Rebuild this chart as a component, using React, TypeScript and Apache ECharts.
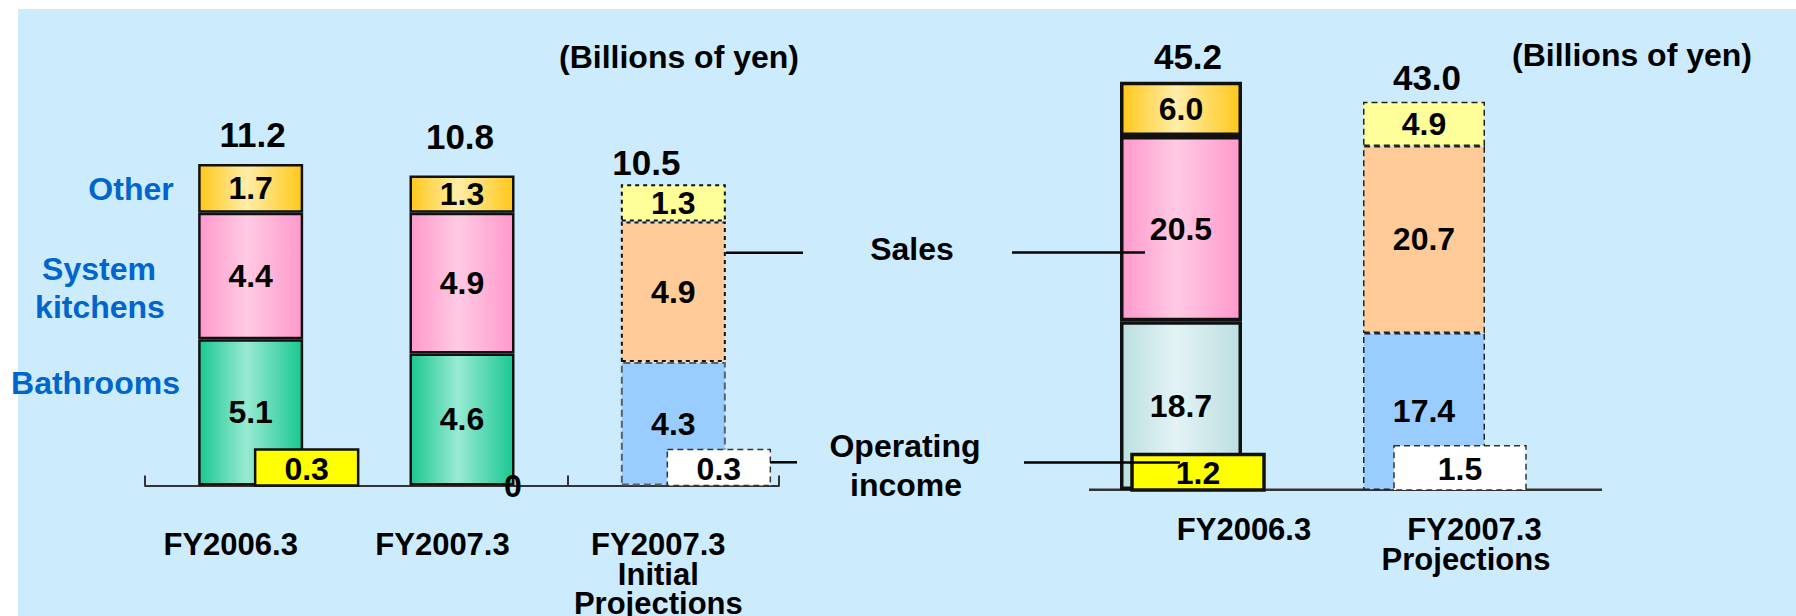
import React, { useEffect, useRef } from 'react';
import * as echarts from 'echarts';

const FONT = "'Liberation Sans', Arial, Helvetica, sans-serif";

// ---------- data ----------
const LEFT_CATEGORIES = ['FY2006.3', 'FY2007.3', 'FY2007.3\nInitial\nProjections'];
const LEFT_BATHROOMS = [5.1, 4.6, 4.3];
const LEFT_KITCHENS = [4.4, 4.9, 4.9];
const LEFT_OTHER = [1.7, 1.3, 1.3];
const LEFT_TOTAL = [11.2, 10.8, 10.5];
const LEFT_OP_INCOME = [0.3, 0, 0.3];

const RIGHT_CATEGORIES = ['FY2006.3', 'FY2007.3\nProjections'];
const RIGHT_SEG1 = [18.7, 17.4];
const RIGHT_SEG2 = [20.5, 20.7];
const RIGHT_SEG3 = [6.0, 4.9];
const RIGHT_TOTAL = [45.2, 43.0];
const RIGHT_OP_INCOME = [1.2, 1.5];

// ---------- layout / style constants ----------
const BG = '#CCEBFD';
const TXT = 32;
const VAL = 32;
const TOT = 35;
const CAT = 31;

const grad = (edge: string, mid: string) => ({
  type: 'linear', x: 0, y: 0, x2: 1, y2: 0,
  colorStops: [
    { offset: 0, color: edge },
    { offset: 0.46, color: mid },
    { offset: 1, color: edge },
  ],
});
const GREEN = grad('#1BC891', '#98EAD2');
const PINK = grad('#FF99CC', '#FFCAE3');
const GOLD = grad('#FFC81A', '#FFEDA8');
const TEAL = grad('#BCDFE0', '#E3F3F6');

const solidL = (color: any) => ({ color, borderColor: '#111', borderWidth: 2.5 });
const solidR = (color: any) => ({ color, borderColor: '#111', borderWidth: 3.5 });
const dashL = (color: string, bc: string, dash: number[]) => ({ color, borderColor: bc, borderWidth: 2, borderType: dash });
const dashR = (color: string) => ({ color, borderColor: '#222', borderWidth: 1.5, borderType: [6, 4] });

const LEFT_BATH_STYLE = [solidL(GREEN), solidL(GREEN), dashL('#99CCFF', '#55606C', [7, 4])];
const LEFT_KIT_STYLE = [solidL(PINK), solidL(PINK), dashL('#FFCC99', '#111', [4, 4])];
const LEFT_OTHER_STYLE = [solidL(GOLD), solidL(GOLD), dashL('#FFFF99', '#111', [4, 4])];
const RIGHT_SEG1_STYLE = [solidR(TEAL), dashR('#99CCFF')];
const RIGHT_SEG2_STYLE = [solidR(PINK), dashR('#FFCC99')];
const RIGHT_SEG3_STYLE = [solidR(GOLD), dashR('#FFFF99')];

const LEFT_TOTAL_OFFSET = [[2, -12.5], [-2, -21.8], [-27, -3.8]];
const RIGHT_TOTAL_OFFSET = [[7, -8], [3, -7.2]];

const LEFT_OP_SHIFT = [56, 51, 45.5];
const RIGHT_OP_SHIFT = [17, 36];
const LEFT_OP_STYLE = [
  { fill: '#FFFF00', stroke: '#111', lineWidth: 2.5, lineDash: null },
  null,
  { fill: '#FFFFFF', stroke: '#333', lineWidth: 1.5, lineDash: [6, 4] },
];
const RIGHT_OP_STYLE = [
  { fill: '#FFFF00', stroke: '#111', lineWidth: 3.5, lineDash: null },
  { fill: '#FFFFFF', stroke: '#333', lineWidth: 1.5, lineDash: [6, 4] },
];

// horizontal shift of each category label line (px)
const LEFT_LABEL_SHIFT = [[-20], [-19.5], [-15, -15, -15]];
const RIGHT_LABEL_SHIFT = [[63], [50.5, 42]];

const LEFT_GRID = { left: 145, top: 141.1, width: 634, height: 344.4 };
const RIGHT_GRID = { left: 1059.5, top: 38.5, width: 486, height: 451.5 };
const LEFT_MAX = 12;
const LEFT_OP_MAX = 344.4 / 120;
const RIGHT_MAX = 50;
const RIGHT_OP_MAX = 451.5 / 29.5;

const valueLabel = {
  show: true,
  position: 'inside',
  fontSize: VAL,
  fontWeight: 'bold',
  fontFamily: FONT,
  color: '#000',
  textBorderWidth: 0,
  formatter: (p: any) => Number(p.value).toFixed(1),
};

function stackSeries(name: string, values: number[], styles: any[], axis: number, stack: string, barWidth: number) {
  return {
    type: 'bar',
    name,
    xAxisIndex: axis,
    yAxisIndex: axis * 2,
    stack,
    barWidth,
    barGap: '-100%',
    z: 2,
    label: valueLabel,
    data: values.map((v, i) => ({ value: v, itemStyle: styles[i] })),
  };
}

function totalSeries(values: number[], offsets: number[][], axis: number, barWidth: number) {
  return {
    type: 'bar',
    xAxisIndex: axis,
    yAxisIndex: axis * 2,
    barWidth,
    barGap: '-100%',
    silent: true,
    z: 3,
    itemStyle: { color: 'rgba(0,0,0,0)', borderWidth: 0 },
    label: {
      show: true,
      position: 'top',
      distance: 0,
      fontSize: TOT,
      fontWeight: 'bold',
      fontFamily: FONT,
      color: '#000',
      formatter: (p: any) => Number(p.value).toFixed(1),
    },
    data: values.map((v, i) => ({ value: v, label: { offset: offsets[i] } })),
  };
}

function opSeries(values: number[], shifts: number[], styles: any[], axis: number, width: number) {
  return {
    type: 'custom',
    xAxisIndex: axis,
    yAxisIndex: axis * 2 + 1,
    z: 5,
    silent: true,
    encode: { x: 0, y: 1 },
    data: values.map((v, i) => [i, v]),
    renderItem: (params: any, api: any) => {
      const idx = api.value(0);
      const v = api.value(1);
      const base = api.coord([idx, 0]);
      const top = api.coord([idx, v]);
      const cx = base[0] + shifts[params.dataIndex];
      const textStyle = {
        fontSize: VAL,
        fontWeight: 'bold',
        fontFamily: FONT,
        fill: '#000',
        align: 'center',
        verticalAlign: 'middle',
        textAlign: 'center',
        textVerticalAlign: 'middle',
      };
      if (!v) {
        return {
          type: 'text',
          style: { ...textStyle, text: String(v), x: cx, y: base[1] },
        };
      }
      const st = styles[params.dataIndex];
      return {
        type: 'group',
        children: [
          {
            type: 'rect',
            shape: { x: cx - width / 2, y: top[1], width, height: base[1] - top[1] },
            style: { fill: st.fill, stroke: st.stroke, lineWidth: st.lineWidth, lineDash: st.lineDash || undefined },
          },
          {
            type: 'text',
            style: { ...textStyle, text: v.toFixed(1), x: cx, y: (top[1] + base[1]) / 2 + 1 },
          },
        ],
      };
    },
  };
}

function makeRich(shifts: number[][], lineHeight: number) {
  const rich: any = {};
  shifts.forEach((lines, i) => {
    lines.forEach((s, j) => {
      rich[`c${i}_${j}`] = {
        fontSize: CAT,
        fontWeight: 'bold',
        fontFamily: FONT,
        color: '#000',
        lineHeight,
        padding: s >= 0 ? [0, 0, 0, 2 * s] : [0, -2 * s, 0, 0],
      };
    });
  });
  return rich;
}

const richFormatter = (value: string, index: number) =>
  value
    .split('\n')
    .map((line, j) => `{c${index}_${j}|${line}}`)
    .join('\n');

const textEl = (text: string, x: number, y: number, fill = '#000', size = TXT) => ({
  type: 'text',
  z: 60,
  style: {
    text, x, y, fill,
    fontSize: size,
    fontWeight: 'bold',
    fontFamily: FONT,
    align: 'center',
    verticalAlign: 'middle',
    textAlign: 'center',
    textVerticalAlign: 'middle',
  },
});

const lineEl = (x1: number, y1: number, x2: number, y2: number, z = 60, color = '#000', w = 2.5) => ({
  type: 'line',
  z,
  shape: { x1, y1, x2, y2 },
  style: { stroke: color, lineWidth: w },
});

export default function App() {
  const ref = useRef<HTMLDivElement>(null);

  useEffect(() => {
    if (!ref.current) return;
    const chart = echarts.init(ref.current, undefined, { renderer: 'svg' });
    const option: any = {
      animation: false,
      backgroundColor: '#FFFFFF',
      grid: [
        { ...LEFT_GRID, containLabel: false, outerBoundsMode: 'none' },
        { ...RIGHT_GRID, containLabel: false, outerBoundsMode: 'none' },
      ],
      xAxis: [
        {
          type: 'category',
          gridIndex: 0,
          data: LEFT_CATEGORIES,
          axisLine: { show: true, lineStyle: { color: '#333', width: 2 } },
          axisTick: { show: true, inside: true, length: 10, lineStyle: { color: '#333', width: 2 } },
          axisLabel: {
            margin: 44.5,
            interval: 0,
            formatter: richFormatter,
            rich: makeRich(LEFT_LABEL_SHIFT, 29.5),
          },
        },
        {
          type: 'category',
          gridIndex: 1,
          data: RIGHT_CATEGORIES,
          axisLine: { show: false },
          axisTick: { show: false },
          axisLabel: {
            margin: 24.5,
            interval: 0,
            formatter: richFormatter,
            rich: makeRich(RIGHT_LABEL_SHIFT, 30),
          },
        },
      ],
      yAxis: [
        { type: 'value', gridIndex: 0, min: 0, max: LEFT_MAX, show: false },
        { type: 'value', gridIndex: 0, min: 0, max: LEFT_OP_MAX, show: false },
        { type: 'value', gridIndex: 1, min: 0, max: RIGHT_MAX, show: false },
        { type: 'value', gridIndex: 1, min: 0, max: RIGHT_OP_MAX, show: false },
      ],
      graphic: [
        { type: 'rect', z: -100, silent: true, shape: { x: 18, y: 9, width: 1800, height: 620 }, style: { fill: BG } },
        lineEl(1089, 489.7, 1602, 489.7, 1, '#333', 2.5),
        lineEl(726, 252.7, 803, 252.7),
        lineEl(770, 462.3, 797, 462.3),
        lineEl(1012, 252.6, 1145, 252.6),
        lineEl(1024, 462.5, 1180, 462.5),
        textEl('(Billions of yen)', 679, 57),
        textEl('(Billions of yen)', 1632, 55),
        textEl('Sales', 912, 249),
        textEl('Operating', 905, 446),
        textEl('income', 906, 485),
        textEl('Other', 131, 189, '#0066CC'),
        textEl('System', 99, 269, '#0066CC'),
        textEl('kitchens', 100, 307, '#0066CC'),
        textEl('Bathrooms', 95.5, 383, '#0066CC'),
      ],
      series: [
        stackSeries('Bathrooms', LEFT_BATHROOMS, LEFT_BATH_STYLE, 0, 'left', 105),
        stackSeries('System kitchens', LEFT_KITCHENS, LEFT_KIT_STYLE, 0, 'left', 105),
        stackSeries('Other', LEFT_OTHER, LEFT_OTHER_STYLE, 0, 'left', 105),
        totalSeries(LEFT_TOTAL, LEFT_TOTAL_OFFSET, 0, 105),
        opSeries(LEFT_OP_INCOME, LEFT_OP_SHIFT, LEFT_OP_STYLE, 0, 103),
        stackSeries('Bathrooms', RIGHT_SEG1, RIGHT_SEG1_STYLE, 1, 'right', 122),
        stackSeries('System kitchens', RIGHT_SEG2, RIGHT_SEG2_STYLE, 1, 'right', 122),
        stackSeries('Other', RIGHT_SEG3, RIGHT_SEG3_STYLE, 1, 'right', 122),
        totalSeries(RIGHT_TOTAL, RIGHT_TOTAL_OFFSET, 1, 122),
        opSeries(RIGHT_OP_INCOME, RIGHT_OP_SHIFT, RIGHT_OP_STYLE, 1, 132),
      ],
    };
    chart.setOption(option);
    return () => chart.dispose();
  }, []);

  return (
    <div
      ref={ref}
      style={{ position: 'fixed', left: 0, top: 0, width: 1796, height: 616 }}
    />
  );
}
